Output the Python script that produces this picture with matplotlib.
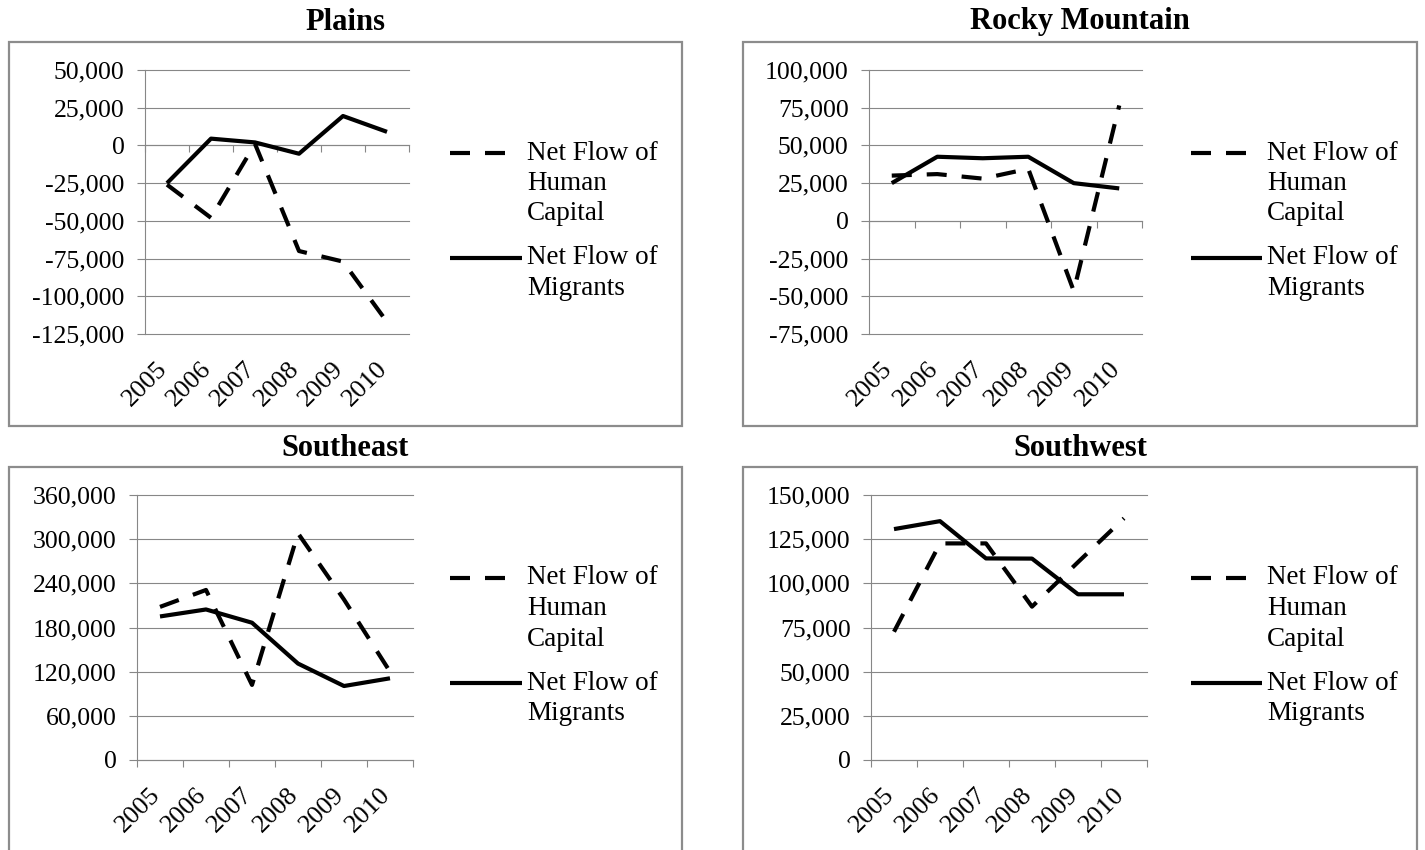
import matplotlib
matplotlib.use("Agg")
import matplotlib.pyplot as plt
from matplotlib.lines import Line2D
from matplotlib.patches import Rectangle
from matplotlib.ticker import FuncFormatter

plt.rcParams["font.family"] = ["Liberation Serif", "DejaVu Serif"]

# ---------------- data ----------------
years = ["2005", "2006", "2007", "2008", "2009", "2010"]

plains_hc = [-26000, -48000, 1000, -70000, -77000, -117000]
plains_mig = [-25000, 4500, 2000, -5500, 19500, 9000]

rocky_hc = [30000, 31000, 28000, 34500, -46500, 76500]
rocky_mig = [25000, 42500, 41500, 42500, 25000, 21500]

southeast_hc = [208000, 231000, 102000, 308000, 218000, 120000]
southeast_mig = [195000, 204500, 186500, 131000, 100500, 111000]

southwest_hc = [72600, 122600, 122600, 86800, 112000, 136800]
southwest_mig = [130700, 135200, 114100, 114000, 93800, 93800]

titles = ["Plains", "Rocky Mountain", "Southeast", "Southwest"]
hc_label = ["Net Flow of", "Human", "Capital"]
mig_label = ["Net Flow of", "Migrants"]

# ---------------- layout (pixels) ----------------
W, H = 1425, 850
fig = plt.figure(figsize=(W / 100, H / 100), dpi=100)


def fx(px):
    return px / W


def fy(py):
    return 1 - py / H


GRAY = "#878787"
BOX = "#8c8c8c"
PX = 0.72  # points per pixel

panels = [
    dict(title=titles[0], hc=plains_hc, mig=plains_mig, ylim=(-125000, 50000), step=25000,
         ax=(145, 70, 409, 334), box=(9, 42, 682, 426), title_y=22,
         leg_dash=(450, 505), leg_solid=(450, 522), leg_text=527),
    dict(title=titles[1], hc=rocky_hc, mig=rocky_mig, ylim=(-75000, 100000), step=25000,
         ax=(869, 70, 1142, 334), box=(743, 42, 1417, 426), title_y=22,
         leg_dash=(1191, 1246), leg_solid=(1191, 1262), leg_text=1267),
    dict(title=titles[2], hc=southeast_hc, mig=southeast_mig, ylim=(0, 360000), step=60000,
         ax=(137, 495, 413, 760), box=(9, 467, 682, 870), title_y=448,
         leg_dash=(450, 505), leg_solid=(450, 522), leg_text=527),
    dict(title=titles[3], hc=southwest_hc, mig=southwest_mig, ylim=(0, 150000), step=25000,
         ax=(871, 495, 1147, 760), box=(743, 467, 1417, 870), title_y=448,
         leg_dash=(1191, 1246), leg_solid=(1191, 1262), leg_text=1267),
]

LW = 3.0
DASH = (4.8, 3.6)
TICK_FS = 18.5
fmt = FuncFormatter(lambda v, p: f"{v:,.0f}")

for p in panels:
    # panel frame
    bx0, by0, bx1, by1 = p["box"]
    fig.add_artist(Rectangle((fx(bx0), fy(by1)), (bx1 - bx0) / W, (by1 - by0) / H,
                             transform=fig.transFigure, fill=False,
                             edgecolor=BOX, lw=1.6, zorder=0))
    # title
    fig.text(fx((bx0 + bx1) / 2), fy(p["title_y"]), p["title"], ha="center", va="center",
             fontsize=22, fontweight="bold")

    x0, y0, x1, y1 = p["ax"]
    ax = fig.add_axes([fx(x0), fy(y1), (x1 - x0) / W, (y1 - y0) / H])
    xs = [i + 0.5 for i in range(len(years))]
    ax.plot(xs, p["hc"], color="black", lw=LW, dashes=DASH, dash_capstyle="butt",
            dash_joinstyle="round", zorder=3)
    ax.plot(xs, p["mig"], color="black", lw=LW, solid_joinstyle="round",
            solid_capstyle="butt", zorder=3)

    lo, hi = p["ylim"]
    ax.set_ylim(lo, hi)
    ax.set_xlim(0, len(years))
    ax.set_yticks(list(range(lo, hi + 1, p["step"])))
    ax.yaxis.set_major_formatter(fmt)
    ax.grid(axis="y", color=GRAY, lw=0.8, zorder=1)
    for gl in ax.get_ygridlines():
        gl.set_clip_on(False)
    ax.set_axisbelow(True)

    for s in ("top", "right"):
        ax.spines[s].set_visible(False)
    ax.spines["left"].set_color(GRAY)
    ax.spines["left"].set_linewidth(0.8)
    ax.spines["bottom"].set_color(GRAY)
    ax.spines["bottom"].set_linewidth(0.8)
    ax.spines["bottom"].set_position(("data", 0))

    ax.tick_params(axis="y", direction="out", length=8 * PX, width=0.8, color=GRAY,
                   labelsize=TICK_FS, pad=9)
    ax.set_xticks(range(len(years) + 1))
    ax.tick_params(axis="x", direction="out", length=7 * PX, width=0.8, color=GRAY,
                   labelbottom=False)

    # category labels at the bottom of the plot area (Excel "low" position)
    for xv, lab in zip(xs, years):
        ax.annotate(lab, xy=(xv, 0), xycoords=("data", "axes fraction"),
                    xytext=(-2, -23), textcoords="offset points",
                    rotation=45, rotation_mode="anchor", ha="right", va="center",
                    fontsize=19, annotation_clip=False)

    # legend (drawn manually so the key sits beside the first line of text)
    ly = by0 + 111
    fig.add_artist(Line2D([fx(p["leg_dash"][0]), fx(p["leg_dash"][1])], [fy(ly), fy(ly)],
                          transform=fig.transFigure, color="black", lw=LW,
                          dashes=DASH, dash_capstyle="butt"))
    for k, t in enumerate(hc_label):
        fig.text(fx(p["leg_text"]), fy(ly + 30.5 * k), t, ha="left", va="center",
                 fontsize=19.5)
    ly2 = by0 + 216
    fig.add_artist(Line2D([fx(p["leg_solid"][0]), fx(p["leg_solid"][1])], [fy(ly2), fy(ly2)],
                          transform=fig.transFigure, color="black", lw=LW,
                          solid_capstyle="butt"))
    for k, t in enumerate(mig_label):
        fig.text(fx(p["leg_text"]), fy(ly2 + 30.5 * k), t, ha="left", va="center",
                 fontsize=19.5)

fig.savefig("out.png", dpi=100)
